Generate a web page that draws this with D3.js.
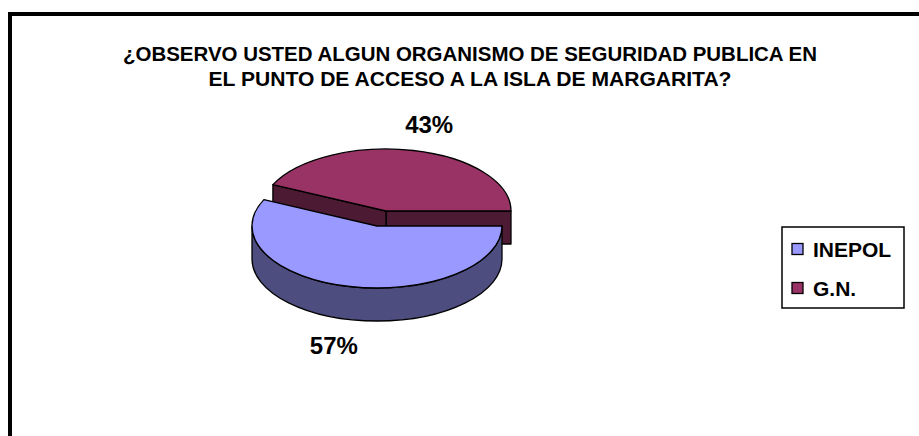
<!DOCTYPE html>
<html lang="es">
<head>
    <meta charset="UTF-8">
    <title>Organismo de seguridad publica</title>
    <script src="https://cdn.jsdelivr.net/npm/d3@7"></script>
    <style>
        body { margin: 0; background: #fff; }
        svg { display: block; font-family: "Liberation Sans", Arial, sans-serif; font-weight: bold; }
    </style>
</head>
<body>
    <div id="chart"></div>
    <script>
        // data
        const categories = ["INEPOL", "G.N."];
        const values = [57, 43];
        const pctLabels = ["57%", "43%"];
        const titleLines = [
            "¿OBSERVO USTED ALGUN ORGANISMO DE SEGURIDAD PUBLICA EN",
            "EL PUNTO DE ACCESO A LA ISLA DE MARGARITA?"
        ];

        const width = 919, height = 436;
        const topColor = d3.scaleOrdinal().domain(categories).range(["#9999ff", "#993366"]);
        const sideColor = d3.scaleOrdinal().domain(categories).range(["#4d4d80", "#4d1a33"]);

        const svg = d3.select("#chart").append("svg")
            .attr("width", width)
            .attr("height", height);

        // outer frame (runs off the right and bottom edges)
        svg.append("rect")
            .attr("x", 10).attr("y", 14)
            .attr("width", 1000).attr("height", 1000)
            .attr("fill", "none")
            .attr("stroke", "#000")
            .attr("stroke-width", 4);

        // title, squeezed like the original
        const titleWidths = [694, 523];
        svg.append("g").selectAll("text")
            .data(titleLines)
            .join("text")
            .attr("x", 470)
            .attr("y", (d, i) => 61 + i * 25)
            .attr("text-anchor", "middle")
            .attr("font-size", 19.5)
            .attr("textLength", (d, i) => titleWidths[i])
            .attr("lengthAdjust", "spacingAndGlyphs")
            .text(d => d);

        // 3d pie geometry
        const rx = 125, ry = 62, depth = 33;
        const center = { x: 386, y: 211 };
        const explode = { "INEPOL": [-9, 15], "G.N.": [0, 0] };

        const pie = d3.pie().sort(null).startAngle(0).endAngle(2 * Math.PI);
        const arcs = pie(values).map((a, i) => {
            const name = categories[i];
            const cx = center.x + explode[name][0], cy = center.y + explode[name][1];
            // phi measured counter-clockwise from 3 o'clock; pie runs clockwise
            return { name, label: pctLabels[i], cx, cy, p1: -a.endAngle, p2: -a.startAngle };
        });

        const pt = (a, phi, dz = 0) => [a.cx + rx * Math.cos(phi), a.cy - ry * Math.sin(phi) + dz];

        function topPath(a) {
            const s = pt(a, a.p1), e = pt(a, a.p2);
            const large = (a.p2 - a.p1) > Math.PI ? 1 : 0;
            return `M${a.cx},${a.cy}L${s}A${rx},${ry} 0 ${large} 0 ${e}Z`;
        }

        function radialFace(a, phi) {
            const p = pt(a, phi), q = pt(a, phi, depth);
            return `M${a.cx},${a.cy}L${p}L${q}L${a.cx},${a.cy + depth}Z`;
        }

        // front wall: part of the slice lying in phi range [-pi, 0] (mod 2pi)
        function wallPath(a) {
            let out = "";
            for (const k of [-1, 0, 1]) {
                const lo = Math.max(a.p1, -Math.PI + k * 2 * Math.PI);
                const hi = Math.min(a.p2, k * 2 * Math.PI);
                if (hi - lo > 1e-6) {
                    const s = pt(a, lo), e = pt(a, hi);
                    const eb = pt(a, hi, depth), sb = pt(a, lo, depth);
                    out += `M${s}A${rx},${ry} 0 0 0 ${e}L${eb}A${rx},${ry} 0 0 1 ${sb}Z`;
                }
            }
            return out;
        }

        // which radial faces face the viewer
        const facing = (phi, normalSign) => Math.sin(phi + normalSign * Math.PI / 2) < 0;

        const pieG = svg.append("g")
            .attr("stroke", "#000")
            .attr("stroke-width", 1.3)
            .attr("stroke-linejoin", "round");

        // back slice first, exploded front slice on top
        const order = ["G.N.", "INEPOL"];
        order.forEach(name => {
            const a = arcs.find(d => d.name === name);
            const g = pieG.append("g");
            if (facing(a.p1, -1)) g.append("path").attr("d", radialFace(a, a.p1)).attr("fill", sideColor(name));
            if (facing(a.p2, 1)) g.append("path").attr("d", radialFace(a, a.p2)).attr("fill", sideColor(name));
            const w = wallPath(a);
            if (w) g.append("path").attr("d", w).attr("fill", sideColor(name));
            g.append("path").attr("d", topPath(a)).attr("fill", topColor(name));
        });

        // percentage labels outside the pie
        const labelRx = 198, labelRy = 89;
        svg.append("g").selectAll("text")
            .data(arcs)
            .join("text")
            .attr("x", d => d.cx + labelRx * Math.cos((d.p1 + d.p2) / 2))
            .attr("y", d => {
                const s = Math.sin((d.p1 + d.p2) / 2);
                return d.cy - labelRy * s + (s < 0 ? depth : 0);
            })
            .attr("dy", "0.35em")
            .attr("text-anchor", "middle")
            .attr("font-size", 24)
            .text(d => d.label);

        // legend
        const legend = svg.append("g").attr("transform", "translate(782,227)");
        legend.append("rect")
            .attr("width", 122).attr("height", 81)
            .attr("fill", "#fff")
            .attr("stroke", "#000")
            .attr("stroke-width", 1.5);
        const entries = legend.selectAll(".entry")
            .data(categories)
            .join("g")
            .attr("class", "entry")
            .attr("transform", (d, i) => `translate(10,${22 + i * 39})`);
        entries.append("rect")
            .attr("y", -5.5)
            .attr("width", 11).attr("height", 11)
            .attr("fill", d => topColor(d))
            .attr("stroke", "#000")
            .attr("stroke-width", 1.3);
        entries.append("text")
            .attr("x", 21)
            .attr("dy", "0.36em")
            .attr("font-size", 21)
            .text(d => d);
    </script>
</body>
</html>
